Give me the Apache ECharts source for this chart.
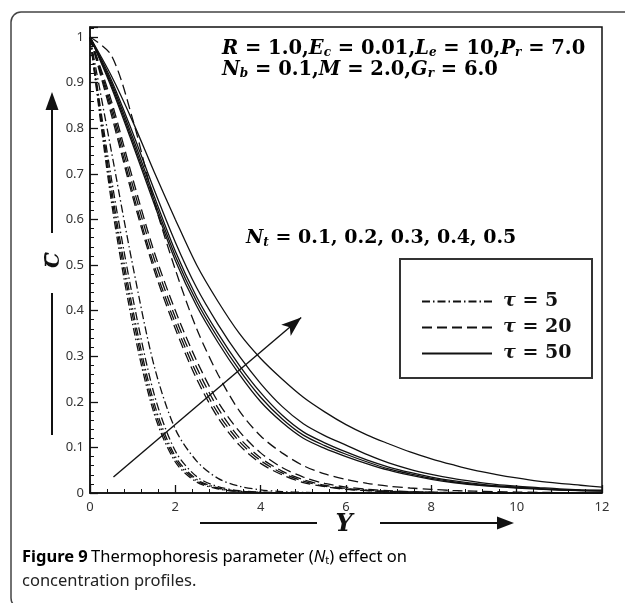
<!DOCTYPE html>
<html>
<head>
<meta charset="utf-8">
<style>
  html, body { margin: 0; padding: 0; background: #fff; }
  #chart { width: 625px; height: 603px; }
</style>
<script src="https://cdn.jsdelivr.net/npm/echarts@6/dist/echarts.min.js"></script>
</head>
<body>
<div id="chart"></div>
<script>
// Similarity coordinate Y shared by every profile (step 0.5)
const Y = [0, 0.5, 1, 1.5, 2, 2.5, 3, 3.5, 4, 4.5, 5, 5.5, 6, 6.5, 7, 7.5, 8, 8.5, 9, 9.5, 10, 10.5, 11, 11.5, 12];

// Thermophoresis parameter values
const ntValues = [0.1, 0.2, 0.3, 0.4, 0.5];

// Concentration profiles, tau = 5 (one row per Nt)
const tau5 = [
  [1, 0.64, 0.37, 0.175, 0.068, 0.024, 0.009, 0.003, 0.001, 0, 0, 0, 0, 0, 0, 0, 0, 0, 0, 0, 0, 0, 0, 0, 0],
  [1, 0.655, 0.388, 0.186, 0.074, 0.027, 0.01, 0.0035, 0.0012, 0.0004, 0, 0, 0, 0, 0, 0, 0, 0, 0, 0, 0, 0, 0, 0, 0],
  [1, 0.67, 0.404, 0.198, 0.08, 0.03, 0.011, 0.004, 0.0014, 0.0005, 0, 0, 0, 0, 0, 0, 0, 0, 0, 0, 0, 0, 0, 0, 0],
  [1, 0.69, 0.43, 0.218, 0.092, 0.036, 0.014, 0.005, 0.002, 0.0007, 0.0002, 0, 0, 0, 0, 0, 0, 0, 0, 0, 0, 0, 0, 0, 0],
  [1, 0.75, 0.5, 0.28, 0.14, 0.07, 0.032, 0.015, 0.007, 0.003, 0.0015, 0.0007, 0.0003, 0, 0, 0, 0, 0, 0, 0, 0, 0, 0, 0, 0]
];

// Concentration profiles, tau = 20
const tau20 = [
  [1, 0.83, 0.65, 0.49, 0.36, 0.25, 0.165, 0.105, 0.065, 0.04, 0.023, 0.014, 0.008, 0.005, 0.003, 0.002, 0.001, 0.0005, 0.0003, 0.0001, 0, 0, 0, 0, 0],
  [1, 0.84, 0.66, 0.5, 0.372, 0.262, 0.175, 0.113, 0.071, 0.044, 0.026, 0.015, 0.009, 0.0055, 0.0033, 0.002, 0.0012, 0.0007, 0.0004, 0.0002, 0.0001, 0, 0, 0, 0],
  [1, 0.85, 0.675, 0.515, 0.385, 0.275, 0.186, 0.121, 0.077, 0.048, 0.029, 0.017, 0.01, 0.006, 0.0037, 0.0023, 0.0014, 0.0008, 0.0005, 0.0003, 0.0002, 0, 0, 0, 0],
  [1, 0.86, 0.69, 0.53, 0.4, 0.29, 0.2, 0.135, 0.088, 0.056, 0.035, 0.021, 0.013, 0.008, 0.005, 0.003, 0.002, 0.0012, 0.0007, 0.0004, 0.0003, 0.0002, 0.0001, 0, 0],
  [1, 0.96, 0.82, 0.64, 0.49, 0.36, 0.26, 0.18, 0.125, 0.088, 0.06, 0.042, 0.03, 0.021, 0.015, 0.011, 0.008, 0.0055, 0.004, 0.003, 0.002, 0.0015, 0.001, 0.0007, 0.0005]
];

// Concentration profiles, tau = 50
const tau50 = [
  [1, 0.89, 0.765, 0.635, 0.51, 0.41, 0.33, 0.26, 0.2, 0.155, 0.12, 0.098, 0.08, 0.064, 0.05, 0.039, 0.03, 0.023, 0.018, 0.014, 0.011, 0.0085, 0.0065, 0.005, 0.004],
  [1, 0.895, 0.772, 0.643, 0.52, 0.42, 0.34, 0.27, 0.21, 0.163, 0.127, 0.104, 0.085, 0.068, 0.053, 0.042, 0.032, 0.025, 0.019, 0.015, 0.012, 0.009, 0.007, 0.0055, 0.0045],
  [1, 0.9, 0.78, 0.652, 0.53, 0.43, 0.35, 0.28, 0.22, 0.171, 0.134, 0.11, 0.09, 0.072, 0.057, 0.045, 0.035, 0.027, 0.021, 0.016, 0.013, 0.01, 0.0075, 0.006, 0.005],
  [1, 0.906, 0.79, 0.666, 0.55, 0.45, 0.37, 0.3, 0.24, 0.19, 0.152, 0.126, 0.105, 0.084, 0.066, 0.052, 0.041, 0.032, 0.025, 0.019, 0.015, 0.012, 0.009, 0.007, 0.006],
  [1, 0.915, 0.815, 0.705, 0.6, 0.5, 0.42, 0.35, 0.295, 0.25, 0.21, 0.178, 0.15, 0.127, 0.108, 0.09, 0.075, 0.062, 0.05, 0.041, 0.033, 0.026, 0.021, 0.017, 0.013]
];

// Direction of increasing Nt, in data coordinates [Y, C]
const trendArrow = [[0.55, 0.035], [4.95, 0.385]];

// Axis ticks
const xTicks = { min: 0, max: 12, step: 2 };
const yTicks = { min: 0, max: 1.022, step: 0.1 };

const groups = [
  { name: 'τ = 5',  rows: tau5,  dash: [8, 3, 1.5, 3] },
  { name: 'τ = 20', rows: tau20, dash: [10, 5] },
  { name: 'τ = 50', rows: tau50, dash: 'solid' }
];

const INK = '#111';
const CLEAR = 'rgba(0,0,0,0)';
const series = [];
groups.forEach(g => {
  g.rows.forEach(row => {
    series.push({
      type: 'line',
      name: g.name,
      data: Y.map((y, i) => [y, row[i]]),
      showSymbol: false,
      symbol: 'none',
      smooth: 0.3,
      silent: true,
      lineStyle: { color: INK, width: 1.3, type: g.dash },
      itemStyle: { color: INK },
      z: 3
    });
  });
});

// Arrow showing the Nt trend
series[0].markLine = {
  silent: true,
  symbol: ['none', 'arrow'],
  symbolSize: [11, 20],
  label: { show: false },
  lineStyle: { color: INK, width: 1.4, type: 'solid' },
  data: [[{ coord: trendArrow[0] }, { coord: trendArrow[1] }]]
};

function serifRich(size) {
  return {
    i: { fontFamily: 'DejaVu Serif', fontStyle: 'italic', fontWeight: 'bold', fontSize: size, color: '#111' },
    n: { fontFamily: 'DejaVu Serif', fontWeight: 'bold', fontSize: size, color: '#111' },
    s: { fontFamily: 'DejaVu Serif', fontStyle: 'italic', fontWeight: 'bold', fontSize: 12, color: '#111', verticalAlign: 'bottom', padding: [8, 0, 0, 0] }
  };
}

const chart = echarts.init(document.getElementById('chart'), null, { renderer: 'canvas' });

chart.setOption({
  backgroundColor: '#fff',
  animation: false,
  grid: {
    left: 90, right: 23, top: 27, bottom: 110,
    show: true, borderColor: '#111', borderWidth: 1.5, backgroundColor: 'transparent'
  },
  xAxis: {
    type: 'value', min: xTicks.min, max: xTicks.max, interval: xTicks.step,
    axisLine: { show: true, lineStyle: { color: '#111', width: 1.5 } },
    axisTick: { show: true, inside: true, length: 8, lineStyle: { color: '#111', width: 1.3 } },
    minorTick: { show: true, splitNumber: 5, length: 4, lineStyle: { color: '#111', width: 1 } },
    splitLine: { show: false },
    axisLabel: { margin: 8, fontFamily: 'Noto Sans', fontSize: 13, color: '#333' }
  },
  yAxis: {
    type: 'value', min: yTicks.min, max: yTicks.max, interval: yTicks.step,
    axisLine: { show: true, lineStyle: { color: '#111', width: 1.5 } },
    axisTick: { show: true, inside: true, length: 8, lineStyle: { color: '#111', width: 1.3 } },
    minorTick: { show: true, splitNumber: 5, length: 4, lineStyle: { color: '#111', width: 1 } },
    splitLine: { show: false },
    axisLabel: {
      margin: 6, fontFamily: 'Noto Sans', fontSize: 13, color: '#333',
      showMaxLabel: false,
      formatter: v => (v > 1.001 ? '' : String(+v.toFixed(1)))
    }
  },
  legend: {
    data: groups.map(g => g.name),
    orient: 'vertical',
    left: 416, top: 287,
    itemWidth: 70, itemHeight: 12, itemGap: 7,
    selectedMode: false,
    itemStyle: { color: CLEAR, borderColor: CLEAR, borderWidth: 0 },
    formatter: n => '{t|τ}{e|' + n.slice(1) + '}',
    textStyle: {
      padding: [0, 0, 0, 6],
      rich: {
        t: { fontFamily: 'DejaVu Serif', fontStyle: 'italic', fontWeight: 'bold', fontSize: 19, color: '#111', lineHeight: 20 },
        e: { fontFamily: 'DejaVu Serif', fontWeight: 'bold', fontSize: 19, color: '#111', lineHeight: 20 }
      }
    }
  },
  graphic: [
    // panel frame
    { type: 'rect', shape: { x: 11, y: 12, width: 700, height: 596, r: 10 }, style: { fill: 'none', stroke: '#444', lineWidth: 1.5 }, silent: true },
    // legend box
    { type: 'rect', shape: { x: 400, y: 259, width: 192, height: 119 }, style: { fill: 'none', stroke: '#333', lineWidth: 2 }, silent: true, z: 10 },
    // parameter annotations
    { type: 'text', left: 222, top: 39, silent: true, style: { rich: serifRich(19.5),
      text: '{i|R}{n| = 1.0,}{i|E}{s|c}{n| = 0.01,}{i|L}{s|e}{n| = 10,}{i|P}{s|r}{n| = 7.0}' } },
    { type: 'text', left: 222, top: 60, silent: true, style: { rich: serifRich(19.5),
      text: '{i|N}{s|b}{n| = 0.1,}{i|M}{n| = 2.0,}{i|G}{s|r}{n| = 6.0}' } },
    { type: 'text', left: 246, top: 229, silent: true, style: { rich: serifRich(19),
      text: '{i|N}{s|t}{n| = 0.1, 0.2, 0.3, 0.4, 0.5}' } },
    // vertical axis title with arrow
    { type: 'line', shape: { x1: 52, y1: 233, x2: 52, y2: 106 }, style: { stroke: '#111', lineWidth: 2 }, silent: true },
    { type: 'polygon', shape: { points: [[52, 92], [45.5, 110], [58.5, 110]] }, style: { fill: '#111' }, silent: true },
    { type: 'line', shape: { x1: 52, y1: 293, x2: 52, y2: 435 }, style: { stroke: '#111', lineWidth: 2 }, silent: true },
    { type: 'text', x: 54, y: 260, rotation: Math.PI / 2, silent: true,
      style: { text: 'C', fontFamily: 'DejaVu Serif', fontStyle: 'italic', fontWeight: 'bold', fontSize: 20, fill: '#111', align: 'center', verticalAlign: 'middle' } },
    { type: 'line', shape: { x1: 45.5, y1: 253, x2: 45.5, y2: 266 }, style: { stroke: '#111', lineWidth: 1.5 }, silent: true },
    // horizontal axis title with arrow
    { type: 'line', shape: { x1: 200, y1: 523, x2: 317, y2: 523 }, style: { stroke: '#111', lineWidth: 2 }, silent: true },
    { type: 'line', shape: { x1: 380, y1: 523, x2: 500, y2: 523 }, style: { stroke: '#111', lineWidth: 2 }, silent: true },
    { type: 'polygon', shape: { points: [[514, 523], [497, 516.5], [497, 529.5]] }, style: { fill: '#111' }, silent: true },
    { type: 'text', x: 344, y: 525, silent: true,
      style: { text: 'Y', fontFamily: 'DejaVu Serif', fontStyle: 'italic', fontWeight: 'bold', fontSize: 24, fill: '#111', align: 'center', verticalAlign: 'middle' } },
    // caption
    { type: 'text', left: 22, top: 549, silent: true, style: {
      text: '{b|Figure 9} {r|Thermophoresis parameter (}{i|N}{s|t}{r|) effect on}',
      rich: {
        b: { fontFamily: 'Noto Sans', fontWeight: 'bold', fontSize: 16.5, color: '#222' },
        r: { fontFamily: 'Noto Sans', fontSize: 16.5, color: '#222' },
        i: { fontFamily: 'Noto Sans', fontStyle: 'italic', fontSize: 16.5, color: '#222' },
        s: { fontFamily: 'Noto Sans', fontSize: 11, color: '#222', verticalAlign: 'bottom', padding: [6, 0, 0, 0] }
      } } },
    { type: 'text', left: 22, top: 573, silent: true, style: {
      text: 'concentration profiles.', fontFamily: 'Noto Sans', fontSize: 16.5, fill: '#222' } }
  ],
  series: series
});
</script>
</body>
</html>
